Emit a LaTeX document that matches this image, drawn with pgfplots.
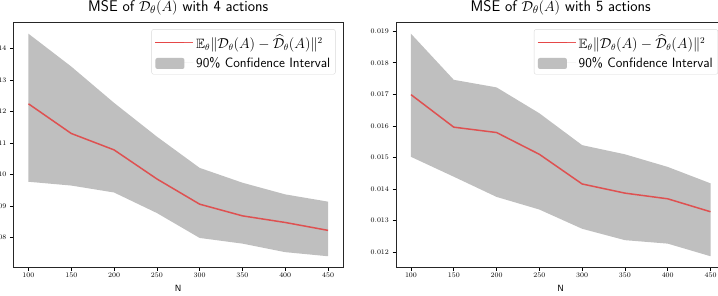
\documentclass[border=0pt]{standalone}
\usepackage{amsmath,amssymb}
\usepackage{pgfplots}
\pgfplotsset{compat=1.18}
\definecolor{meanred}{RGB}{228,62,62}
\definecolor{bandgray}{RGB}{191,191,191}
\pgfplotsset{
  mse/.style={
    scale only axis, width=329.5pt, height=244.6pt,
    anchor=south west,
    xmin=82.5, xmax=467.5,
    xtick={100,150,200,250,300,350,400,450},
    tick align=outside, tick pos=left,
    major tick length=3.5pt,
    every tick/.style={black, line width=0.6pt},
    axis line style={black!85, line width=0.8pt},
    scaled y ticks=false,
    yticklabel style={/pgf/number format/fixed, /pgf/number format/precision=3, /pgf/number format/fixed zerofill, font=\fontsize{7.5}{8}\selectfont},
    xticklabel style={font=\fontsize{7.5}{8}\selectfont, yshift=1pt},
    xlabel={N},
    xlabel style={font=\fontsize{9}{10}\sffamily, at={(0.5,0)}, anchor=center, yshift=-21.5pt},
    title style={font=\fontsize{15.5}{18}\sffamily, at={(0.5,1)}, anchor=base, yshift=5.4pt},
    legend style={at={(1,1)}, anchor=north east, xshift=-7.5pt, yshift=-6.5pt,
      draw=black!15, rounded corners=2pt, font=\fontsize{13.5}{16}\sffamily,
      inner xsep=3pt, inner ysep=3.5pt, row sep=3pt},
    legend cell align=left,
  },
  meanline/.style={color=meanred, opacity=0.85, line width=1.5pt,
    legend image code/.code={\path (0pt,0pt) -- (38pt,0pt); \draw[color=meanred, opacity=0.65, line width=1.5pt] (0pt,0pt) -- (29pt,0pt);}},
  band/.style={fill=bandgray, draw=none,
    legend image code/.code={\path (0pt,0pt) -- (38pt,0pt); \fill[bandgray] (0pt,-6pt) rectangle (29pt,5pt);}},
}
\begin{document}
\begin{tikzpicture}
\begin{axis}[mse, at={(13.5pt,28.7pt)},
  ymin=0.00706, ymax=0.01481,
  ytick={0.008,0.009,0.010,0.011,0.012,0.013,0.014},
  title={MSE of $\mathcal{D}_\theta(A)$ with 4 actions}]
% band: upper edge left to right, then lower edge right to left
\addplot[band, forget plot] coordinates {
(100,0.01446) (150,0.01342) (200,0.01227) (250,0.01120) (300,0.01021) (350,0.00974) (400,0.00937) (450,0.00914)
(450,0.00741) (400,0.00754) (350,0.00781) (300,0.00799) (250,0.00878) (200,0.00943) (150,0.00965) (100,0.00977)} -- cycle;
\addplot[meanline] coordinates {
(100,0.01224) (150,0.01130) (200,0.01078) (250,0.00986) (300,0.00906) (350,0.00869) (400,0.00848) (450,0.00823)};
\addlegendentry{$\mathbb{E}_\theta\|\mathcal{D}_\theta(A)-\widehat{\mathcal{D}}_\theta(A)\|^2$}
\addlegendimage{band}
\addlegendentry{90\% Confidence Interval}
\end{axis}
\begin{axis}[mse, at={(396pt,28.7pt)},
  ymin=0.01152, ymax=0.01927,
  ytick={0.012,0.013,0.014,0.015,0.016,0.017,0.018,0.019},
  title={MSE of $\mathcal{D}_\theta(A)$ with 5 actions}]
\addplot[band, forget plot] coordinates {
(100,0.01892) (150,0.01746) (200,0.01722) (250,0.01640) (300,0.01539) (350,0.01510) (400,0.01470) (450,0.01418)
(450,0.01187) (400,0.01227) (350,0.01238) (300,0.01274) (250,0.01335) (200,0.01375) (150,0.01439) (100,0.01502)} -- cycle;
\addplot[meanline] coordinates {
(100,0.01699) (150,0.01596) (200,0.01579) (250,0.01510) (300,0.01416) (350,0.01387) (400,0.01369) (450,0.01328)};
\addlegendentry{$\mathbb{E}_\theta\|\mathcal{D}_\theta(A)-\widehat{\mathcal{D}}_\theta(A)\|^2$}
\addlegendimage{band}
\addlegendentry{90\% Confidence Interval}
\end{axis}
\pgfresetboundingbox
\path[use as bounding box] (0pt,0pt) rectangle (718pt,296pt);
\end{tikzpicture}
\end{document}
